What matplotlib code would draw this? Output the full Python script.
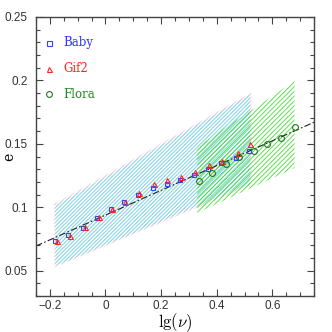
import matplotlib
matplotlib.use("Agg")
import matplotlib.pyplot as plt

plt.rcParams['mathtext.fontset'] = 'cm'
plt.rcParams['hatch.linewidth'] = 0.6

# data
baby_x = [-0.182, -0.134, -0.080, -0.030, 0.019, 0.067, 0.117, 0.170, 0.221,
          0.267, 0.318, 0.369, 0.417, 0.471, 0.516]
baby_y = [0.0735, 0.0783, 0.0838, 0.0917, 0.0983, 0.1040, 0.1100, 0.1150, 0.1187,
          0.1213, 0.1253, 0.1298, 0.1345, 0.1390, 0.1440]
gif2_x = [-0.175, -0.128, -0.075, -0.024, 0.025, 0.071, 0.120, 0.174, 0.223,
          0.270, 0.321, 0.372, 0.420, 0.476, 0.521]
gif2_y = [0.0733, 0.0772, 0.0845, 0.0920, 0.0990, 0.1043, 0.1110, 0.1180, 0.1213,
          0.1240, 0.1280, 0.1330, 0.1365, 0.1430, 0.1495]
flora_x = [0.335, 0.383, 0.435, 0.480, 0.534, 0.582, 0.632, 0.682]
flora_y = [0.1210, 0.1270, 0.1337, 0.1397, 0.1442, 0.1495, 0.1546, 0.1633]

fit_x = [-0.25, 0.75]
fit_y = [0.0694, 0.1670]

# scatter bands (edges read at both ends)
baby_band_x = [-0.18, 0.52]
baby_band_lo = [0.0536, 0.1185]
baby_band_hi = [0.1014, 0.1888]
gif2_band_x = [-0.185, 0.525]
gif2_band_lo = [0.0525, 0.1175]
gif2_band_hi = [0.1025, 0.1905]
flora_band_x = [0.33, 0.68]
flora_band_lo = [0.0956, 0.1310]
flora_band_hi = [0.1478, 0.1995]

fig = plt.figure(figsize=(3.32, 3.32), dpi=100)
ax = fig.add_axes([0.1084, 0.1084, 0.8374, 0.8404])

ax.fill_between(gif2_band_x, gif2_band_lo, gif2_band_hi, facecolor='none',
                edgecolor='#ffb8c8', hatch='/' * 9, linewidth=0)
ax.fill_between(baby_band_x, baby_band_lo, baby_band_hi, facecolor='none',
                edgecolor='#66e4f2', hatch='/' * 9, linewidth=0)
ax.fill_between(flora_band_x, flora_band_lo, flora_band_hi, facecolor='none',
                edgecolor='#44dd33', hatch='/' * 7, linewidth=0)

ax.plot(fit_x, fit_y, color='#222222', lw=0.8, ls=(0, (6, 2, 1.5, 2)))

ax.plot(baby_x, baby_y, 's', ms=3.2, mfc='none', mec='#3344ff', mew=0.8)
ax.plot(gif2_x, gif2_y, '^', ms=3.6, mfc='none', mec='#ff2222', mew=0.8)
ax.plot(flora_x, flora_y, 'o', ms=4.2, mfc='none', mec='#227722', mew=0.8)

# legend drawn by hand
labels = ['Baby', 'Gif2', 'Flora']
marks = ['s', '^', 'o']
mcols = ['#3344ff', '#ff2222', '#227722']
tcols = ['#3333ff', '#ff2222', '#228822']
ly = [0.907, 0.815, 0.724]
for lab, m, mc, tc, yy in zip(labels, marks, mcols, tcols, ly):
    ax.plot([0.048], [yy], m, ms=3.6 if m != 'o' else 4.2, mfc='none', mec=mc,
            mew=0.8, transform=ax.transAxes)
    ax.text(0.10, yy, lab, color=tc, family='DejaVu Serif', fontsize=8.5,
            va='center', ha='left', transform=ax.transAxes)

ax.set_xlim(-0.25, 0.75)
ax.set_ylim(0.03, 0.25)
ax.set_xticks([-0.2, 0, 0.2, 0.4, 0.6])
ax.set_xticklabels(['\u22120.2', '0', '0.2', '0.4', '0.6'])
ax.set_yticks([0.05, 0.1, 0.15, 0.2, 0.25])
ax.set_yticklabels(['0.05', '0.1', '0.15', '0.2', '0.25'])
ax.set_xticks([x / 100 for x in range(-25, 76, 5)], minor=True)
ax.set_yticks([y / 100 for y in range(3, 26)], minor=True)
ax.tick_params(which='both', direction='in', top=True, right=True,
               color='#444444', width=0.8, labelsize=8.5)
ax.tick_params(axis='x', which='major', pad=3)
ax.tick_params(axis='y', which='major', pad=6)
ax.tick_params(which='major', length=5)
ax.tick_params(which='minor', length=3)
for lab in ax.get_xticklabels() + ax.get_yticklabels():
    lab.set_family('Liberation Sans')
    lab.set_color('#333333')
for s in ax.spines.values():
    s.set_color('#444444')
    s.set_linewidth(1.0)

ax.set_xlabel(r'$\mathrm{lg}(\nu)$', fontsize=12)
ax.xaxis.set_label_coords(0.5, -0.053)
ax.set_ylabel('e', fontsize=10, family='DejaVu Serif')
ax.yaxis.set_label_coords(-0.07, 0.5)

fig.savefig('out.png', dpi=100)
